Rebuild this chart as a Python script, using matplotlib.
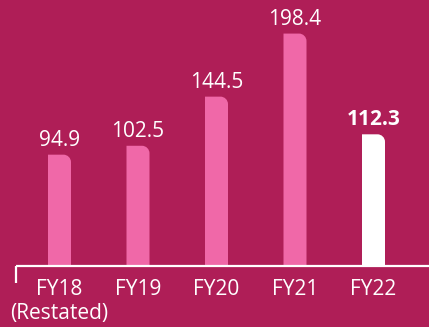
import matplotlib
matplotlib.use("Agg")
import matplotlib.pyplot as plt
from matplotlib.path import Path
from matplotlib.patches import PathPatch
from matplotlib import transforms

years = ["FY18", "FY19", "FY20", "FY21", "FY22"]
values = [94.9, 102.5, 144.5, 198.4, 112.3]
subtitles = ["(Restated)", "", "", "", ""]
highlight = [False, False, False, False, True]

BG = "#AF1E57"
PINK = "#F068A8"
WHITE = "#FFFFFF"

plt.rcParams["font.family"] = ["Open Sans", "DejaVu Sans"]

W, H, DPI = 429, 327, 100
fig = plt.figure(figsize=(W / DPI, H / DPI), dpi=DPI, facecolor=BG)
ax = fig.add_axes([0, 0, 1, 1])
ax.set_facecolor(BG)
ax.axis("off")

# scale: 78.5 px between bars, 1.17 px per unit, baseline 61 px above bottom
xpx, ypx, base_px, x0_px = 78.5, 1.17, 61.3, 59.5
ax.set_xlim(-x0_px / xpx, (W - x0_px) / xpx)
ax.set_ylim(-base_px / ypx, (H - base_px) / ypx)

bar_w = 23 / xpx
rx, ry = 7.5 / xpx, 7.5 / ypx
k = 0.5523
FS = 15


def top_right_rounded_bar(xc, h):
    x0, x1 = xc - bar_w / 2, xc + bar_w / 2
    verts = [
        (x0, 0), (x1, 0), (x1, h - ry),
        (x1, h - ry + k * ry), (x1 - rx + k * rx, h), (x1 - rx, h),
        (x0, h), (x0, 0),
    ]
    codes = [Path.MOVETO, Path.LINETO, Path.LINETO,
             Path.CURVE4, Path.CURVE4, Path.CURVE4,
             Path.LINETO, Path.CLOSEPOLY]
    return Path(verts, codes)


def shifted(dy_px):
    return transforms.offset_copy(ax.transData, fig=fig, x=0, y=dy_px,
                                  units="dots")


for i, (v, hl) in enumerate(zip(values, highlight)):
    ax.add_patch(PathPatch(top_right_rounded_bar(i, v),
                           facecolor=WHITE if hl else PINK, edgecolor="none"))
    ax.text(i, v, f"{v:.1f}", transform=shifted(9), ha="center",
            va="baseline", color=WHITE, fontsize=FS,
            fontweight="bold" if hl else "normal")
    ax.text(i, 0, years[i], transform=shifted(-29.5), ha="center",
            va="baseline", color=WHITE, fontsize=FS)
    if subtitles[i]:
        ax.text(i, 0, subtitles[i], transform=shifted(-53.5), ha="center",
                va="baseline", color=WHITE, fontsize=FS)

# baseline with a short tick at its left end
xl = (16 - x0_px) / xpx
ax.plot([xl, (W - x0_px) / xpx], [0, 0], color=WHITE, lw=1.6,
        solid_capstyle="butt", clip_on=False)
ax.plot([xl, xl], [0, -17 / ypx], color=WHITE, lw=1.6,
        solid_capstyle="butt", clip_on=False)

fig.savefig("out.png", dpi=DPI, facecolor=BG)
